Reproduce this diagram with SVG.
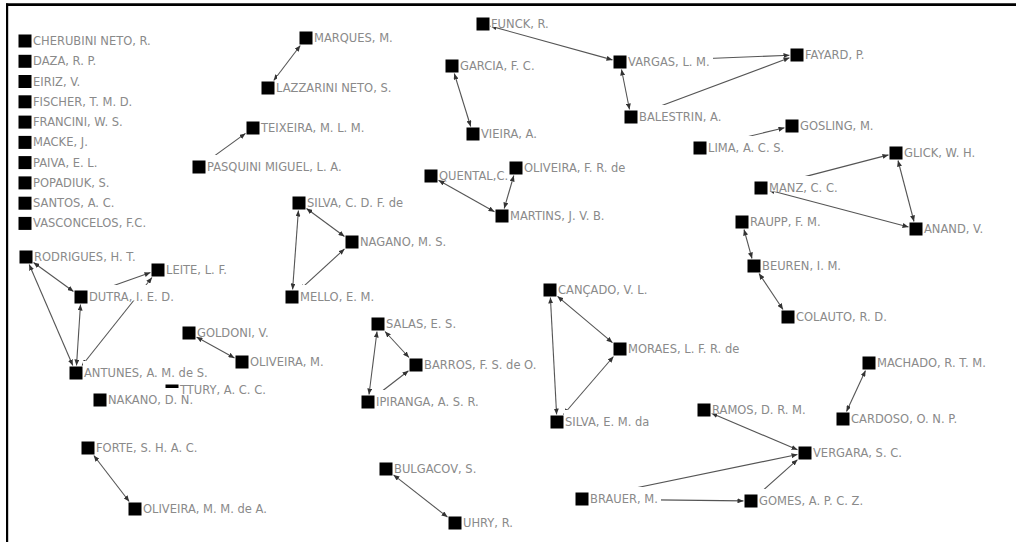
<svg xmlns="http://www.w3.org/2000/svg" width="1016" height="542" viewBox="0 0 1016 542">
<style>
.sq{fill:#000}
.bg{fill:#fff}
.lb{font-family:"DejaVu Sans",Verdana,sans-serif;font-size:11.5px;fill:#8a8a8a}
.e{stroke:#555;stroke-width:1.1;fill:none;marker-start:url(#ah);marker-end:url(#ah)}
.frame{stroke:#000;fill:none}
</style>
<defs>
<marker id="ah" viewBox="0 0 6 5" refX="6" refY="2.5" markerWidth="6" markerHeight="5" markerUnits="userSpaceOnUse" orient="auto-start-reverse"><path d="M0,0L6,2.5L0,5z" fill="#333"/></marker>
</defs>
<rect width="1016" height="542" fill="#fff"/>
<g id="frame">
<line class="frame" x1="6" y1="4.6" x2="1016" y2="4.6" stroke-width="2.6"/>
<line class="frame" x1="7.1" y1="3.5" x2="7.1" y2="542" stroke-width="2.2"/>
</g>
<g id="connectors">
<line class="e" x1="300.3" y1="45.5" x2="273.7" y2="80.5"/>
<line class="e" x1="245.5" y1="133.4" x2="206.5" y2="161.6"/>
<line class="e" x1="306.5" y1="208.5" x2="344.5" y2="236.5"/>
<line class="e" x1="298.4" y1="210.5" x2="292.6" y2="289.5"/>
<line class="e" x1="344.5" y1="248.9" x2="299.5" y2="290.1"/>
<line class="e" x1="33.5" y1="262.5" x2="73.5" y2="291.5"/>
<line class="e" x1="29.2" y1="264.5" x2="72.8" y2="365.5"/>
<line class="e" x1="80.5" y1="304.5" x2="76.5" y2="365.5"/>
<line class="e" x1="88.5" y1="294.4" x2="150.5" y2="272.6"/>
<line class="e" x1="82" y1="365.5" x2="152" y2="277.5"/>
<line class="e" x1="196.5" y1="337.1" x2="234.5" y2="357.9"/>
<line class="e" x1="93.8" y1="455.5" x2="129.2" y2="501.5"/>
<line class="e" x1="385" y1="331.5" x2="409" y2="357.5"/>
<line class="e" x1="377" y1="331.5" x2="369" y2="394.5"/>
<line class="e" x1="408.5" y1="370.8" x2="375.5" y2="396.2"/>
<line class="e" x1="393.5" y1="474.9" x2="447.5" y2="517.1"/>
<line class="e" x1="557.5" y1="296.3" x2="612.5" y2="342.7"/>
<line class="e" x1="550.4" y1="297.5" x2="556.6" y2="414.5"/>
<line class="e" x1="613.5" y1="356.5" x2="563.5" y2="414.5"/>
<line class="e" x1="490.5" y1="26.1" x2="612.5" y2="59.9"/>
<line class="e" x1="621.5" y1="69.5" x2="629.5" y2="109.5"/>
<line class="e" x1="627.5" y1="61.7" x2="789.5" y2="55.3"/>
<line class="e" x1="638.5" y1="114.2" x2="789.5" y2="57.8"/>
<line class="e" x1="454.3" y1="73.5" x2="470.7" y2="126.5"/>
<line class="e" x1="438.5" y1="180.2" x2="494.5" y2="211.8"/>
<line class="e" x1="513.8" y1="175.5" x2="504.2" y2="208.5"/>
<line class="e" x1="707.5" y1="146.2" x2="784.5" y2="127.8"/>
<line class="e" x1="768.5" y1="186.1" x2="888.5" y2="154.9"/>
<line class="e" x1="768.5" y1="190" x2="908.5" y2="227"/>
<line class="e" x1="898" y1="160.5" x2="914" y2="221.5"/>
<line class="e" x1="744" y1="229.5" x2="752" y2="258.5"/>
<line class="e" x1="759" y1="273.5" x2="783" y2="309.5"/>
<line class="e" x1="865.5" y1="370.5" x2="846.5" y2="411.5"/>
<line class="e" x1="711.5" y1="413.2" x2="797.5" y2="449.8"/>
<line class="e" x1="589.5" y1="497.5" x2="797.5" y2="454.5"/>
<line class="e" x1="758.5" y1="494.3" x2="797.5" y2="459.7"/>
<line class="e" x1="589.5" y1="499.1" x2="743.5" y2="500.9"/>
</g>
<g id="n-cherubini"><rect class="bg" x="32" y="29" width="122" height="15.5"/><rect class="sq" x="18.5" y="34.5" width="13" height="13"/><text class="lb" x="33" y="45">CHERUBINI NETO, R.</text></g>
<g id="n-daza"><rect class="bg" x="32" y="49.3" width="70" height="15.5"/><rect class="sq" x="18.5" y="54.8" width="13" height="13"/><text class="lb" x="33" y="65.3">DAZA, R. P.</text></g>
<g id="n-eiriz"><rect class="bg" x="32" y="69.5" width="53" height="15.5"/><rect class="sq" x="18.5" y="75" width="13" height="13"/><text class="lb" x="33" y="85.5">EIRIZ, V.</text></g>
<g id="n-fischer"><rect class="bg" x="32" y="89.8" width="105" height="15.5"/><rect class="sq" x="18.5" y="95.3" width="13" height="13"/><text class="lb" x="33" y="105.8">FISCHER, T. M. D.</text></g>
<g id="n-francini"><rect class="bg" x="32" y="110.1" width="95" height="15.5"/><rect class="sq" x="18.5" y="115.6" width="13" height="13"/><text class="lb" x="33" y="126.1">FRANCINI, W. S.</text></g>
<g id="n-macke"><rect class="bg" x="32" y="130.4" width="59" height="15.5"/><rect class="sq" x="18.5" y="135.9" width="13" height="13"/><text class="lb" x="33" y="146.4">MACKE, J.</text></g>
<g id="n-paiva"><rect class="bg" x="32" y="150.6" width="70" height="15.5"/><rect class="sq" x="18.5" y="156.1" width="13" height="13"/><text class="lb" x="33" y="166.6">PAIVA, E. L.</text></g>
<g id="n-popadiuk"><rect class="bg" x="32" y="170.9" width="81" height="15.5"/><rect class="sq" x="18.5" y="176.4" width="13" height="13"/><text class="lb" x="33" y="186.9">POPADIUK, S.</text></g>
<g id="n-santos"><rect class="bg" x="32" y="191.2" width="85" height="15.5"/><rect class="sq" x="18.5" y="196.7" width="13" height="13"/><text class="lb" x="33" y="207.2">SANTOS, A. C.</text></g>
<g id="n-vasconcelos"><rect class="bg" x="32" y="211.4" width="120" height="15.5"/><rect class="sq" x="18.5" y="216.9" width="13" height="13"/><text class="lb" x="33" y="227.4">VASCONCELOS, F.C.</text></g>
<g id="n-marques"><rect class="bg" x="313" y="26" width="83" height="15.5"/><rect class="sq" x="299.5" y="31.5" width="13" height="13"/><text class="lb" x="314" y="42">MARQUES, M.</text></g>
<g id="n-lazzarini"><rect class="bg" x="277" y="76" width="117" height="15.5"/><rect class="sq" x="261.5" y="81.5" width="13" height="13"/><text class="lb" x="276" y="92">LAZZARINI NETO, S.</text></g>
<g id="n-teixeira"><rect class="bg" x="260" y="116" width="108" height="15.5"/><rect class="sq" x="246.5" y="121.5" width="13" height="13"/><text class="lb" x="261" y="132">TEIXEIRA, M. L. M.</text></g>
<g id="n-pasquini"><rect class="bg" x="206" y="155" width="140" height="15.5"/><rect class="sq" x="192.5" y="160.5" width="13" height="13"/><text class="lb" x="207" y="171">PASQUINI MIGUEL, L. A.</text></g>
<g id="n-silva-cdf"><rect class="bg" x="306" y="191" width="104" height="15.5"/><rect class="sq" x="292.5" y="196.5" width="13" height="13"/><text class="lb" x="307" y="207">SILVA, C. D. F. de</text></g>
<g id="n-nagano"><rect class="bg" x="359" y="230" width="90" height="15.5"/><rect class="sq" x="345.5" y="235.5" width="13" height="13"/><text class="lb" x="360" y="246">NAGANO, M. S.</text></g>
<g id="n-mello"><rect class="bg" x="299" y="285" width="79" height="15.5"/><rect class="sq" x="285.5" y="290.5" width="13" height="13"/><text class="lb" x="300" y="301">MELLO, E. M.</text></g>
<g id="n-rodrigues"><rect class="bg" x="33" y="245" width="107" height="15.5"/><rect class="sq" x="19.5" y="250.5" width="13" height="13"/><text class="lb" x="34" y="261">RODRIGUES, H. T.</text></g>
<g id="n-leite"><rect class="bg" x="165" y="258" width="67" height="15.5"/><rect class="sq" x="151.5" y="263.5" width="13" height="13"/><text class="lb" x="166" y="274">LEITE, L. F.</text></g>
<g id="n-dutra"><rect class="bg" x="88" y="285" width="89" height="15.5"/><rect class="sq" x="74.5" y="290.5" width="13" height="13"/><text class="lb" x="89" y="301">DUTRA, I. E. D.</text></g>
<g id="n-antunes"><rect class="bg" x="83" y="361" width="128" height="15.5"/><rect class="sq" x="69.5" y="366.5" width="13" height="13"/><text class="lb" x="84" y="377">ANTUNES, A. M. de S.</text></g>
<g id="n-nakano"><rect class="bg" x="107" y="388" width="89" height="15.5"/><rect class="sq" x="93.5" y="393.5" width="13" height="13"/><text class="lb" x="108" y="404">NAKANO, D. N.</text></g>
<g id="n-tury"><rect class="bg" x="179" y="378" width="91" height="15.5"/><rect class="sq" x="165.5" y="384.5" width="13" height="3.5"/><text class="lb" x="180" y="394">TTURY, A. C. C.</text></g>
<g id="n-goldoni"><rect class="bg" x="196" y="321" width="77" height="15.5"/><rect class="sq" x="182.5" y="326.5" width="13" height="13"/><text class="lb" x="197" y="337">GOLDONI, V.</text></g>
<g id="n-oliveira-m"><rect class="bg" x="249" y="350" width="78" height="15.5"/><rect class="sq" x="235.5" y="355.5" width="13" height="13"/><text class="lb" x="250" y="366">OLIVEIRA, M.</text></g>
<g id="n-forte"><rect class="bg" x="95" y="436" width="107" height="15.5"/><rect class="sq" x="81.5" y="441.5" width="13" height="13"/><text class="lb" x="96" y="452">FORTE, S. H. A. C.</text></g>
<g id="n-oliveira-mm"><rect class="bg" x="142" y="497" width="129" height="15.5"/><rect class="sq" x="128.5" y="502.5" width="13" height="13"/><text class="lb" x="143" y="513">OLIVEIRA, M. M. de A.</text></g>
<g id="n-salas"><rect class="bg" x="385" y="312" width="74" height="15.5"/><rect class="sq" x="371.5" y="317.5" width="13" height="13"/><text class="lb" x="386" y="328">SALAS, E. S.</text></g>
<g id="n-barros"><rect class="bg" x="423" y="353" width="119" height="15.5"/><rect class="sq" x="409.5" y="358.5" width="13" height="13"/><text class="lb" x="424" y="369">BARROS, F. S. de O.</text></g>
<g id="n-ipiranga"><rect class="bg" x="375" y="390" width="108" height="15.5"/><rect class="sq" x="361.5" y="395.5" width="13" height="13"/><text class="lb" x="376" y="406">IPIRANGA, A. S. R.</text></g>
<g id="n-cancado"><rect class="bg" x="557" y="278" width="95" height="15.5"/><rect class="sq" x="543.5" y="283.5" width="13" height="13"/><text class="lb" x="558" y="294">CANÇADO, V. L.</text></g>
<g id="n-moraes"><rect class="bg" x="627" y="337" width="118" height="15.5"/><rect class="sq" x="613.5" y="342.5" width="13" height="13"/><text class="lb" x="628" y="353">MORAES, L. F. R. de</text></g>
<g id="n-silva-em"><rect class="bg" x="564" y="410" width="90" height="15.5"/><rect class="sq" x="550.5" y="415.5" width="13" height="13"/><text class="lb" x="565" y="426">SILVA, E. M. da</text></g>
<g id="n-bulgacov"><rect class="bg" x="393" y="457" width="87" height="15.5"/><rect class="sq" x="379.5" y="462.5" width="13" height="13"/><text class="lb" x="394" y="473">BULGACOV, S.</text></g>
<g id="n-uhry"><rect class="bg" x="462" y="511" width="55" height="15.5"/><rect class="sq" x="448.5" y="516.5" width="13" height="13"/><text class="lb" x="463" y="527">UHRY, R.</text></g>
<g id="n-funck"><rect class="bg" x="491" y="12" width="61" height="15"/><rect class="sq" x="476.5" y="17.5" width="13" height="13"/><text class="lb" x="491" y="28">FUNCK, R.</text></g>
<g id="n-garcia"><rect class="bg" x="459" y="54" width="81" height="15.5"/><rect class="sq" x="445.5" y="59.5" width="13" height="13"/><text class="lb" x="460" y="70">GARCIA, F. C.</text></g>
<g id="n-vieira"><rect class="bg" x="480" y="122" width="61" height="15.5"/><rect class="sq" x="466.5" y="127.5" width="13" height="13"/><text class="lb" x="481" y="138">VIEIRA, A.</text></g>
<g id="n-vargas"><rect class="bg" x="627" y="50" width="86" height="15.5"/><rect class="sq" x="613.5" y="55.5" width="13" height="13"/><text class="lb" x="628" y="66">VARGAS, L. M.</text></g>
<g id="n-fayard"><rect class="bg" x="804" y="43" width="68" height="15.5"/><rect class="sq" x="790.5" y="48.5" width="13" height="13"/><text class="lb" x="805" y="59">FAYARD, P.</text></g>
<g id="n-balestrin"><rect class="bg" x="638" y="105" width="87" height="15.5"/><rect class="sq" x="624.5" y="110.5" width="13" height="13"/><text class="lb" x="639" y="121">BALESTRIN, A.</text></g>
<g id="n-quental"><rect class="bg" x="438" y="164" width="72" height="15.5"/><rect class="sq" x="424.5" y="169.5" width="13" height="13"/><text class="lb" x="439" y="180">QUENTAL,C.</text></g>
<g id="n-oliveira-fr"><rect class="bg" x="523" y="156" width="108" height="15.5"/><rect class="sq" x="509.5" y="161.5" width="13" height="13"/><text class="lb" x="524" y="172">OLIVEIRA, F. R. de</text></g>
<g id="n-martins"><rect class="bg" x="509" y="204" width="101" height="15.5"/><rect class="sq" x="495.5" y="209.5" width="13" height="13"/><text class="lb" x="510" y="220">MARTINS, J. V. B.</text></g>
<g id="n-lima"><rect class="bg" x="707" y="136" width="80" height="15.5"/><rect class="sq" x="693.5" y="141.5" width="13" height="13"/><text class="lb" x="708" y="152">LIMA, A. C. S.</text></g>
<g id="n-gosling"><rect class="bg" x="799" y="114" width="78" height="15.5"/><rect class="sq" x="785.5" y="119.5" width="13" height="13"/><text class="lb" x="800" y="130">GOSLING, M.</text></g>
<g id="n-glick"><rect class="bg" x="903" y="141" width="77" height="15.5"/><rect class="sq" x="889.5" y="146.5" width="13" height="13"/><text class="lb" x="904" y="157">GLICK, W. H.</text></g>
<g id="n-manz"><rect class="bg" x="768" y="176" width="73" height="15.5"/><rect class="sq" x="754.5" y="181.5" width="13" height="13"/><text class="lb" x="769" y="192">MANZ, C. C.</text></g>
<g id="n-anand"><rect class="bg" x="923" y="217" width="65" height="15.5"/><rect class="sq" x="909.5" y="222.5" width="13" height="13"/><text class="lb" x="924" y="233">ANAND, V.</text></g>
<g id="n-raupp"><rect class="bg" x="749" y="210" width="77" height="15.5"/><rect class="sq" x="735.5" y="215.5" width="13" height="13"/><text class="lb" x="750" y="226">RAUPP, F. M.</text></g>
<g id="n-beuren"><rect class="bg" x="761" y="254" width="83" height="15.5"/><rect class="sq" x="747.5" y="259.5" width="13" height="13"/><text class="lb" x="762" y="270">BEUREN, I. M.</text></g>
<g id="n-colauto"><rect class="bg" x="795" y="305" width="95" height="15.5"/><rect class="sq" x="781.5" y="310.5" width="13" height="13"/><text class="lb" x="796" y="321">COLAUTO, R. D.</text></g>
<g id="n-machado"><rect class="bg" x="876" y="351" width="115" height="15.5"/><rect class="sq" x="862.5" y="356.5" width="13" height="13"/><text class="lb" x="877" y="367">MACHADO, R. T. M.</text></g>
<g id="n-cardoso"><rect class="bg" x="850" y="407" width="112" height="15.5"/><rect class="sq" x="836.5" y="412.5" width="13" height="13"/><text class="lb" x="851" y="423">CARDOSO, O. N. P.</text></g>
<g id="n-ramos"><rect class="bg" x="711" y="398" width="99" height="15.5"/><rect class="sq" x="697.5" y="403.5" width="13" height="13"/><text class="lb" x="712" y="414">RAMOS, D. R. M.</text></g>
<g id="n-vergara"><rect class="bg" x="812" y="441" width="93" height="15.5"/><rect class="sq" x="798.5" y="446.5" width="13" height="13"/><text class="lb" x="813" y="457">VERGARA, S. C.</text></g>
<g id="n-brauer"><rect class="bg" x="589" y="487" width="72" height="15.5"/><rect class="sq" x="575.5" y="492.5" width="13" height="13"/><text class="lb" x="590" y="503">BRAUER, M.</text></g>
<g id="n-gomes"><rect class="bg" x="758" y="489" width="110" height="15.5"/><rect class="sq" x="744.5" y="494.5" width="13" height="13"/><text class="lb" x="759" y="505">GOMES, A. P. C. Z.</text></g>
</svg>
